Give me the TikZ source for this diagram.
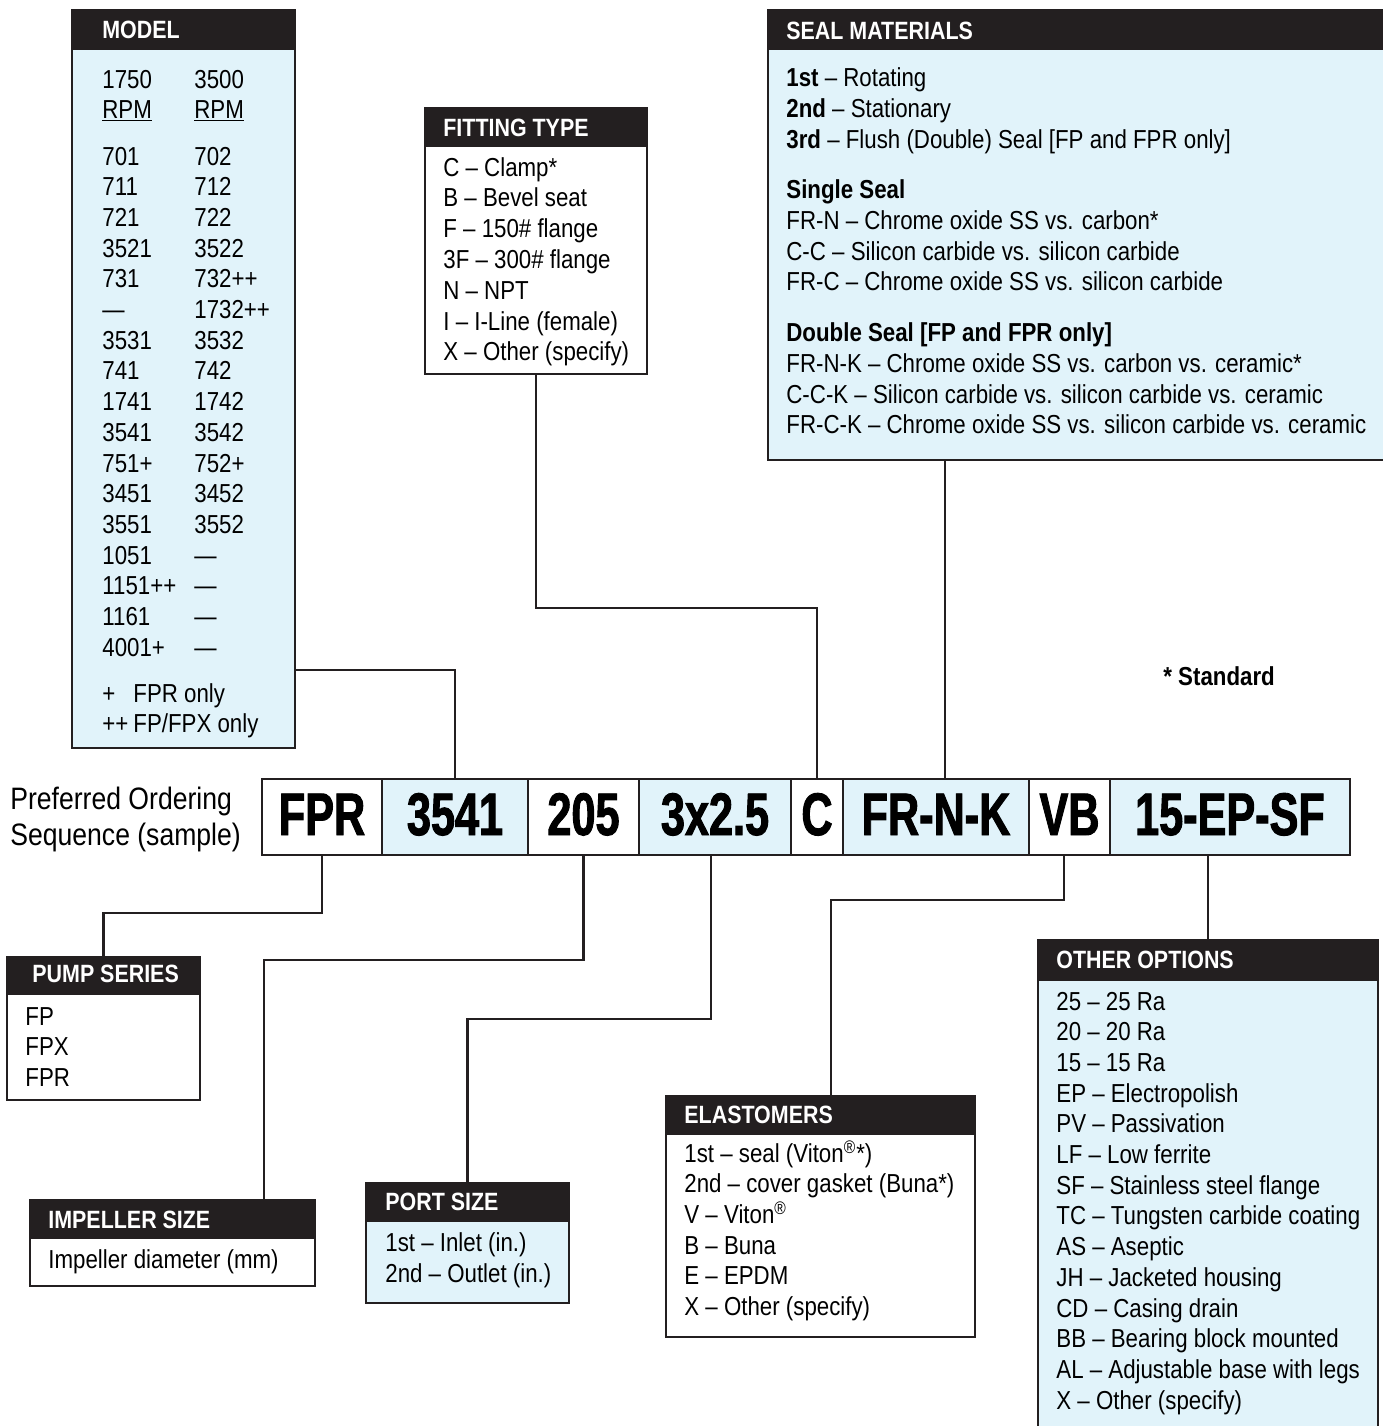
\documentclass[tikz,border=0pt]{standalone}
\usepackage{fontspec}
\setmainfont{Liberation Sans}[FakeStretch=0.857]
\newfontfamily\seqfont{Liberation Sans}[FakeStretch=0.72,BoldFeatures={FakeBold=1.6}]
\usetikzlibrary{fit}
\definecolor{lblue}{HTML}{E1F3FA}
\definecolor{dark}{HTML}{231F20}
\newcommand\mypanel[7]{%
  \node[fit={(#2,#3)(#4,#5)}, inner sep=0pt, fill=#7] (#1) {};
  \fill[dark] (#2,#3) rectangle (#4,#6);
  \draw[bd] (#2,#3) rectangle (#4,#5);}
\begin{document}
\begin{tikzpicture}[x=0.5pt,y=-0.5pt,
  bd/.style={draw=dark,line width=1.3pt},
  conn/.style={draw=dark,line width=1.2pt},
  hdr/.style={anchor=base west,inner sep=0pt,text=white,font=\bfseries\fontsize{12.5}{14}\selectfont},
  itm/.style={anchor=base west,inner sep=0pt,font=\fontsize{13}{15}\selectfont},
  sub/.style={anchor=base west,inner sep=0pt,font=\bfseries\fontsize{13}{15}\selectfont},
  seqt/.style={anchor=base,inner sep=0pt,font=\seqfont\bfseries\fontsize{30}{32}\selectfont},
  seg/.style={inner sep=0pt,draw=dark,line width=1.3pt}]

\useasboundingbox (0,0) rectangle (1383,1426);

% ---------- panels ----------
\mypanel{model}{72}{10}{295}{748}{50}{lblue}
\mypanel{fitting}{425}{108}{647}{374}{147}{white}
\mypanel{seal}{768}{10}{1390}{460}{50}{lblue}
\mypanel{pump}{7}{957}{200}{1100}{995}{white}
\mypanel{imp}{30}{1200}{315}{1286}{1239}{white}
\mypanel{port}{366}{1183}{569}{1303}{1222}{lblue}
\mypanel{elast}{666}{1096}{975}{1337}{1135}{white}
\mypanel{other}{1038}{940}{1378}{1436}{981}{lblue}

% ---------- headers ----------
\node[hdr] (hmodel) at (102,38) {MODEL};
\node[hdr] (hfit) at (443,136) {FITTING TYPE};
\node[hdr] (hseal) at (786,39) {SEAL MATERIALS};
\node[hdr] (hpump) at (32,982) {PUMP SERIES};
\node[hdr] (himp) at (48,1228) {IMPELLER SIZE};
\node[hdr] (hport) at (385,1210) {PORT SIZE};
\node[hdr] (helast) at (684,1123) {ELASTOMERS};
\node[hdr] (hother) at (1056,968) {OTHER OPTIONS};

% ---------- MODEL ----------
\node[itm] (ma0) at (102,88) {1750};
\node[itm] (mb0) at (194,88) {3500};
\node[itm] (ma00) at (102,118) {\underline{RPM}};
\node[itm] (mb00) at (194,118) {\underline{RPM}};
\foreach \a/\b [count=\i] in {701/702,711/712,721/722,3521/3522,731/732++,—/1732++,3531/3532,741/742,1741/1742,3541/3542,751+/752+,3451/3452,3551/3552,1051/—,1151++/—,1161/—,4001+/—}{
  \node[itm] (ma\i) at (102,{165+(\i-1)*30.7}) {\a};
  \node[itm] (mb\i) at (194,{165+(\i-1)*30.7}) {\b};
}
\node[itm] (mn1) at (102,702) {+};
\node[itm] (mn1t) at (133,702) {FPR only};
\node[itm] (mn2) at (102,732) {++};
\node[itm] (mn2t) at (133,732) {FP/FPX only};

% ---------- FITTING TYPE ----------
\foreach \t [count=\i] in {C – Clamp*,B – Bevel seat,F – 150\# flange,3F – 300\# flange,N – NPT,I – I-Line (female),X – Other (specify)}{
  \node[itm] (f\i) at (443,{176+(\i-1)*30.8}) {\t};
}

% ---------- SEAL MATERIALS ----------
\node[itm] (s1l) at (786,86) {\textbf{1st} – Rotating};
\node[itm] (s2l) at (786,117) {\textbf{2nd} – Stationary};
\node[itm] (s3l) at (786,148) {\textbf{3rd} – Flush (Double) Seal [FP and FPR only]};
\node[sub] (ss) at (786,198) {Single Seal};
\node[itm] (ss1) at (786,229) {FR-N – Chrome oxide SS vs. carbon*};
\node[itm] (ss2) at (786,260) {C-C – Silicon carbide vs. silicon carbide};
\node[itm] (ss3) at (786,290) {FR-C – Chrome oxide SS vs. silicon carbide};
\node[sub] (ds) at (786,341) {Double Seal [FP and FPR only]};
\node[itm] (ds1) at (786,372) {FR-N-K – Chrome oxide SS vs. carbon vs. ceramic*};
\node[itm] (ds2) at (786,403) {C-C-K – Silicon carbide vs. silicon carbide vs. ceramic};
\node[itm] (ds3) at (786,433) {FR-C-K – Chrome oxide SS vs. silicon carbide vs. ceramic};

\node[sub] (std) at (1163,685) {* Standard};

% ---------- sequence ----------
\node[anchor=base west,inner sep=0pt,font=\fontsize{15.5}{18}\selectfont] (pref1) at (10,809) {Preferred Ordering};
\node[anchor=base west,inner sep=0pt,font=\fontsize{15.5}{18}\selectfont] (pref2) at (10,845) {Sequence (sample)};
\foreach \a/\b/\f/\t [count=\i] in {262/382/white/FPR,382/528/lblue/3541,528/639/white/205,639/791/lblue/3x2.5,791/843/white/C,843/1029/lblue/FR-N-K,1029/1110/white/VB,1110/1350/lblue/15-EP-SF}{
  \node[seg, fill=\f, fit={(\a,779)(\b,855)}] (s\i) {};
  \node[seqt] (t\i) at ({(\a+\b)/2},835) {\t};
}

% ---------- lower panels ----------
\foreach \t [count=\i] in {FP,FPX,FPR}{
  \node[itm] (p\i) at (25,{1025+(\i-1)*30.7}) {\t};
}
\node[itm] (i1) at (48,1268) {Impeller diameter (mm)};
\node[itm] (po1) at (385,1251) {1st – Inlet (in.)};
\node[itm] (po2) at (385,1282) {2nd – Outlet (in.)};
\foreach \t [count=\i] in {1st – seal (Viton\textsuperscript{®}*),2nd – cover gasket (Buna*),V – Viton\textsuperscript{®},B – Buna,E – EPDM,X – Other (specify)}{
  \node[itm] (e\i) at (684,{1162+(\i-1)*30.7}) {\t};
}
\foreach \t [count=\i] in {25 – 25 Ra,20 – 20 Ra,15 – 15 Ra,EP – Electropolish,PV – Passivation,LF – Low ferrite,SF – Stainless steel flange,TC – Tungsten carbide coating,AS – Aseptic,JH – Jacketed housing,CD – Casing drain,BB – Bearing block mounted,AL – Adjustable base with legs,X – Other (specify)}{
  \node[itm] (o\i) at (1056,{1010+(\i-1)*30.7}) {\t};
}

% ---------- connectors ----------
\coordinate (ym) at (0,670);
\coordinate (yf) at (0,608);
\coordinate (xs) at (945,0);
\coordinate (y913) at (0,913);
\coordinate (y960) at (0,960);
\coordinate (xi) at (264,0);
\coordinate (xp4) at (711,0);
\coordinate (y1019) at (0,1019);
\coordinate (xvb) at (1064,0);
\coordinate (y900) at (0,900);
\coordinate (xe) at (831,0);
\coordinate (xo) at (1208,0);

\draw[conn] (model.east |- ym) -| (s2.north);
\draw[conn] (fitting.south) -- (fitting.south |- yf) -| (s5.north);
\draw[conn] (seal.south -| xs) -- (s6.north -| xs);
\draw[conn] (s1.south) -- (s1.south |- y913) -| (pump.north);
\draw[conn] (s3.south) -- (s3.south |- y960) -| (imp.north -| xi);
\draw[conn] (s4.south -| xp4) -- (xp4 |- y1019) -| (port.north);
\draw[conn] (s7.south -| xvb) -- (xvb |- y900) -| (elast.north -| xe);
\draw[conn] (s8.south -| xo) -- (other.north -| xo);
\end{tikzpicture}
\end{document}
